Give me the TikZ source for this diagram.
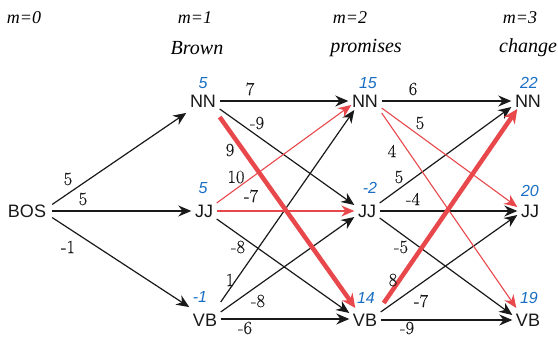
\documentclass[tikz,border=0pt]{standalone}
\usepackage{fontspec}
\setmainfont{Latin Modern Roman}
\newfontfamily\hdfont{Liberation Serif}
\newfontfamily\tagfont{Liberation Sans}
\newfontfamily\wtfont[FakeBold=0.3]{Latin Modern Roman}
\usetikzlibrary{arrows.meta}
\definecolor{scoreblue}{RGB}{25,110,195}
\definecolor{pathred}{RGB}{232,72,75}
\definecolor{ink}{RGB}{25,25,25}
\tikzset{
  x=1pt, y=-1pt,
  tag/.style={font=\tagfont\fontsize{18}{18}\selectfont, inner sep=3.5pt, text=ink},
  score/.style={font=\tagfont\itshape\fontsize{16}{16}\selectfont, text=scoreblue, inner sep=0pt},
  hdr/.style={font=\hdfont\itshape\fontsize{18}{18}\selectfont, inner sep=0pt},
  word/.style={font=\hdfont\itshape\fontsize{20}{20}\selectfont, inner sep=0pt},
  wt/.style={font=\wtfont\fontsize{18.5}{18.5}\selectfont, inner sep=0pt, text=ink},
  edge/.style={draw=ink, line width=1.2pt, -{Stealth[length=13pt,width=11pt]}},
  redge/.style={draw=pathred, line width=1.1pt, -{Stealth[length=13pt,width=11pt]}},
  bestedge/.style={draw=pathred, line width=4.5pt, -{Stealth[length=14pt,width=13pt]}},
}
\begin{document}
\begin{tikzpicture}
\useasboundingbox (0,0) rectangle (558,337);

% column headings
\node[hdr] (h0) at (24,18) {m=0};
\node[hdr] (h1) at (195,18) {m=1};
\node[hdr] (h2) at (350,18) {m=2};
\node[hdr] (h3) at (520,18) {m=3};
\node[word] (w1) at (197,48) {Brown};
\node[word] (w2) at (366,48) {promises};
\node[word, anchor=west] (w3) at (499,48) {change};

% lattice states
\node[tag, inner sep=6pt] (bos) at (27,211) {BOS};
\node[tag] (nn1) at (203,101) {NN};
\node[tag] (jj1) at (204,211) {JJ};
\node[tag] (vb1) at (205,320) {VB};
\node[tag] (nn2) at (365,101) {NN};
\node[tag] (jj2) at (367,211) {JJ};
\node[tag] (vb2) at (365,320) {VB};
\node[tag] (nn3) at (528,101) {NN};
\node[tag] (jj3) at (530,211) {JJ};
\node[tag] (vb3) at (528,320) {VB};

% accumulated scores
\node[score] (s1) at (203,83) {5};
\node[score] (s2) at (203,188) {5};
\node[score] (s3) at (200,297) {-1};
\node[score] (s4) at (368,83) {15};
\node[score] (s5) at (370,188) {-2};
\node[score] (s6) at (366,298) {14};
\node[score] (s7) at (529,83) {22};
\node[score] (s8) at (530,191) {20};
\node[score] (s9) at (529,298) {19};

% start transitions
\draw[edge] ([yshift=-6pt]bos.north east) -- ([yshift=-2pt]nn1.south west);
\draw[edge] (bos.east) -- (jj1.west);
\draw[edge] ([yshift=6pt]bos.south east) -- ([yshift=3pt]vb1.north west);

% first word to second word
\draw[edge] (nn1.east) -- (nn2.west);
\draw[edge] ([yshift=-8pt]nn1.east) -- ([yshift=6pt]jj2.west);
\draw[edge] ([yshift=-8pt]jj1.east) -- ([yshift=7pt]vb2.west);
\draw[edge] ([yshift=18pt]vb1.east) -- ([xshift=6pt,yshift=-9pt]nn2.west);
\draw[edge] ([yshift=8pt]vb1.east) -- ([yshift=-6pt]jj2.west);
\draw[edge] ([yshift=1pt]vb1.east) -- ([yshift=1pt]vb2.west);
\draw[redge] ([yshift=8pt]jj1.east) -- ([xshift=3pt,yshift=-4pt]nn2.west);
\draw[redge] (jj1.east) -- (jj2.west);
\draw[bestedge] ([yshift=-16pt]nn1.east) -- ([xshift=6pt,yshift=12pt]vb2.west);

% second word to third word
\draw[edge] (nn2.east) -- (nn3.west);
\draw[edge] ([yshift=8pt]jj2.east) -- ([yshift=-6pt]nn3.west);
\draw[edge] (jj2.east) -- (jj3.west);
\draw[edge] ([yshift=-7pt]jj2.east) -- ([yshift=5pt]vb3.west);
\draw[edge] ([yshift=8pt]vb2.east) -- ([yshift=-4pt]jj3.west);
\draw[edge] (vb2.east) -- (vb3.west);
\draw[redge] ([yshift=-7pt]nn2.east) -- ([yshift=4pt]jj3.west);
\draw[redge] ([yshift=-12pt]nn2.east) -- ([xshift=4pt,yshift=12pt]vb3.west);
\draw[bestedge] ([xshift=3pt,yshift=17pt]vb2.east) -- ([xshift=6pt,yshift=-8pt]nn3.west);

% transition weights
\node[wt] (a1) at (68,179) {5};
\node[wt] (a2) at (83,199) {5};
\node[wt] (a3) at (68,247) {-1};
\node[wt] (b1) at (250,89) {7};
\node[wt] (b2) at (257,123) {-9};
\node[wt] (b3) at (230,150) {9};
\node[wt] (b4) at (236,177) {10};
\node[wt] (b5) at (251,196) {-7};
\node[wt] (b6) at (238,247) {-8};
\node[wt] (b7) at (230,280) {1};
\node[wt] (b8) at (258,301) {-8};
\node[wt] (b9) at (245,328) {-6};
\node[wt] (c1) at (413,89) {6};
\node[wt] (c2) at (420,123) {5};
\node[wt] (c3) at (392,151) {4};
\node[wt] (c4) at (399,177) {5};
\node[wt] (c5) at (413,199) {-4};
\node[wt] (c6) at (401,247) {-5};
\node[wt] (c7) at (393,280) {8};
\node[wt] (c8) at (421,301) {-7};
\node[wt] (c9) at (407,328) {-9};
\end{tikzpicture}
\end{document}
